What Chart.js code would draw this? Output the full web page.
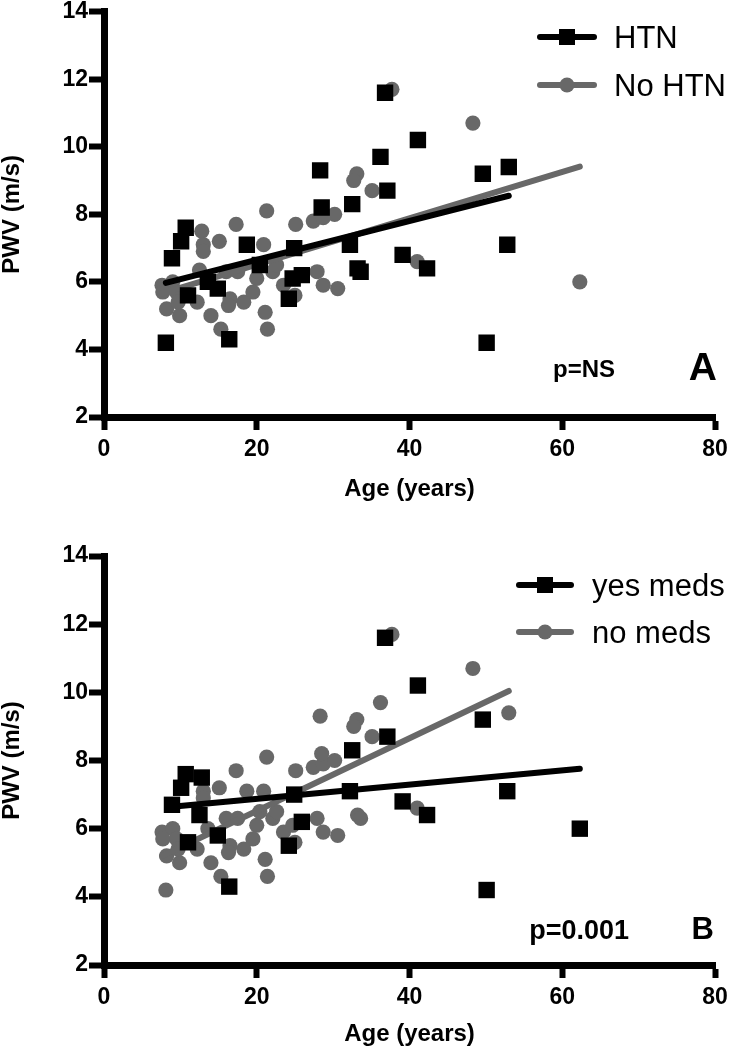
<!DOCTYPE html>
<html lang="en">
<head>
  <meta charset="UTF-8" />
  <title>PWV vs Age</title>
  <script src="https://cdn.jsdelivr.net/npm/chart.js"></script>
  <style>
    body {
      margin: 0;
      background: #ffffff;
    }
    .panel {
      width: 734px;
      height: 524px;
    }
  </style>
</head>
<body>
  <div class="panel"><canvas id="chartA" width="734" height="524"></canvas></div>
  <div class="panel"><canvas id="chartB" width="734" height="524"></canvas></div>

  <script>
    // --- Panel A: HTN vs No HTN
    const htnAge = [8.1, 8.9, 10.1, 10.7, 11.0, 13.6, 14.9, 16.4, 18.7, 20.4, 24.9, 24.2, 24.7, 25.9, 28.3,
                    28.5, 32.5, 32.2, 33.2, 33.6, 36.2, 36.8, 37.1, 39.1, 41.1, 42.3, 49.6, 50.1, 53.0, 52.8];
    const htnPwv = [4.2, 6.7, 7.2, 7.6, 5.6, 6.0, 5.8, 4.3, 7.1, 6.5, 7.0, 5.5, 6.1, 6.2, 9.3,
                    8.2, 8.3, 7.1, 6.4, 6.3, 9.7, 11.6, 8.7, 6.8, 10.2, 6.4, 9.2, 4.2, 9.4, 7.1];

    const noHtnAge = [21.3, 17.3, 12.8, 15.1, 13.0, 13.0, 20.9, 25.1, 12.5, 16.0, 17.5, 20.0, 22.1, 22.6,
                      7.6, 9.0, 7.7, 9.5, 8.2, 9.9, 9.7, 12.2, 14.0, 15.3, 16.5, 16.3, 18.3, 19.5, 21.1,
                      21.4, 23.5, 25.0, 27.4, 37.7, 48.3, 33.1, 32.7, 35.1, 28.7, 30.2, 27.9, 28.7, 30.6,
                      41.0, 62.3];
    const noHtnPwv = [8.1, 7.7, 7.5, 7.2, 7.1, 6.9, 7.1, 7.7, 6.35, 6.3, 6.3, 6.1, 6.3, 6.5,
                      5.9, 6.0, 5.7, 5.7, 5.2, 5.0, 5.4, 5.4, 5.0, 4.6, 5.5, 5.3, 5.4, 5.7, 5.1,
                      4.6, 5.9, 5.6, 7.8, 11.7, 10.7, 9.2, 9.0, 8.7, 7.9, 8.0, 6.3, 5.9, 5.8,
                      6.6, 6.0];

    const htnFitAge = [8.1, 53.0];
    const htnFitPwv = [5.97, 8.55];
    const noHtnFitAge = [7.6, 62.3];
    const noHtnFitPwv = [5.66, 9.41];

    // --- Panel B: yes meds vs no meds
    const medsAge = [8.9, 10.1, 10.7, 11.0, 12.5, 12.8, 14.9, 16.4, 24.9, 24.2, 25.9, 32.5, 32.2,
                     36.8, 37.1, 39.1, 41.1, 42.3, 49.6, 50.1, 52.8, 62.3];
    const medsPwv = [6.7, 7.2, 7.6, 5.6, 6.4, 7.5, 5.8, 4.3, 7.0, 5.5, 6.2, 8.3, 7.1,
                     11.6, 8.7, 6.8, 10.2, 6.4, 9.2, 4.2, 7.1, 6.0];

    const noMedsAge = [21.3, 17.3, 15.1, 13.0, 13.0, 20.9, 25.1, 16.0, 17.5, 20.0, 22.1, 22.6,
                       7.6, 9.0, 7.7, 9.5, 8.2, 9.9, 9.7, 12.2, 14.0, 15.3, 16.5, 16.3, 18.3, 19.5, 21.1,
                       21.4, 23.5, 25.0, 27.4, 37.7, 48.3, 33.1, 32.7, 35.1, 28.7, 30.2, 27.9, 28.7, 30.6,
                       41.0, 8.1, 13.6, 18.7, 20.4, 24.7, 28.3, 28.5, 33.2, 33.6, 36.2, 53.0];
    const noMedsPwv = [8.1, 7.7, 7.2, 7.1, 6.9, 7.1, 7.7, 6.3, 6.3, 6.1, 6.3, 6.5,
                       5.9, 6.0, 5.7, 5.7, 5.2, 5.0, 5.4, 5.4, 5.0, 4.6, 5.5, 5.3, 5.4, 5.7, 5.1,
                       4.6, 5.9, 5.6, 7.8, 11.7, 10.7, 9.2, 9.0, 8.7, 7.9, 8.0, 6.3, 5.9, 5.8,
                       6.6, 4.2, 6.0, 7.1, 6.5, 6.1, 9.3, 8.2, 6.4, 6.3, 9.7, 9.4];

    const medsFitAge = [8.9, 62.3];
    const medsFitPwv = [6.64, 7.76];
    const noMedsFitAge = [7.6, 53.0];
    const noMedsFitPwv = [5.2, 10.04];

    const xTicks = [0, 20, 40, 60, 80];
    const yTicks = [2, 4, 6, 8, 10, 12, 14];

    const BLACK = '#000000';
    const GREY = '#686868';
    const FONT = '"Liberation Sans", Arial, Helvetica, sans-serif';

    Chart.defaults.font.family = FONT;
    Chart.defaults.color = '#000000';

    const toPoints = (xs, ys) => xs.map((x, i) => ({ x: x, y: ys[i] }));

    // legend + panel labels drawn on the canvas
    const panelText = {
      id: 'panelText',
      afterDraw(chart, args, opts) {
        const ctx = chart.ctx;
        ctx.save();
        opts.legend.forEach(item => {
          ctx.strokeStyle = item.color;
          ctx.lineWidth = 6;
          ctx.lineCap = 'round';
          ctx.beginPath();
          ctx.moveTo(item.x, item.y);
          ctx.lineTo(item.x + item.len, item.y);
          ctx.stroke();
          ctx.fillStyle = item.color;
          const mid = item.x + item.len / 2;
          if (item.shape === 'rect') {
            ctx.fillRect(mid - 8, item.y - 8, 16, 16);
          } else {
            ctx.beginPath();
            ctx.arc(mid, item.y, 7.5, 0, Math.PI * 2);
            ctx.fill();
          }
          ctx.fillStyle = '#000000';
          ctx.font = '31px ' + FONT;
          ctx.textAlign = 'left';
          ctx.textBaseline = 'alphabetic';
          ctx.fillText(item.label, item.textX, item.y + 11);
        });
        opts.notes.forEach(n => {
          ctx.fillStyle = '#000000';
          ctx.font = 'bold ' + n.size + 'px ' + FONT;
          ctx.textAlign = 'right';
          ctx.textBaseline = 'alphabetic';
          ctx.fillText(n.text, n.x, n.y);
        });
        ctx.restore();
      }
    };

    function makeChart(id, sets, layout, legend, notes) {
      const ctx = document.getElementById(id).getContext('2d');
      return new Chart(ctx, {
        type: 'scatter',
        data: {
          datasets: [
            {
              label: sets.squareLabel,
              data: toPoints(sets.sqX, sets.sqY),
              pointStyle: 'rect',
              pointRadius: 11.6,
              pointBackgroundColor: BLACK,
              pointBorderWidth: 0,
              order: 0
            },
            {
              label: sets.squareLabel + ' fit',
              data: toPoints(sets.sqFitX, sets.sqFitY),
              showLine: true,
              borderColor: BLACK,
              borderWidth: 6,
              borderCapStyle: 'round',
              pointRadius: 0,
              order: 1
            },
            {
              label: sets.circleLabel + ' fit',
              data: toPoints(sets.ciFitX, sets.ciFitY),
              showLine: true,
              borderColor: GREY,
              borderWidth: 6,
              borderCapStyle: 'round',
              pointRadius: 0,
              order: 2
            },
            {
              label: sets.circleLabel,
              data: toPoints(sets.ciX, sets.ciY),
              pointStyle: 'circle',
              pointRadius: 7.6,
              pointBackgroundColor: GREY,
              pointBorderWidth: 0,
              order: 3
            }
          ]
        },
        options: {
          responsive: false,
          animation: false,
          layout: { padding: { left: 0, right: 19, top: layout.top, bottom: layout.bottom } },
          plugins: {
            legend: { display: false },
            tooltip: { enabled: false },
            panelText: { legend: legend, notes: notes }
          },
          scales: {
            x: {
              type: 'linear',
              min: 0,
              max: 80,
              afterBuildTicks: s => { s.ticks = xTicks.map(v => ({ value: v })); },
              afterFit: s => { s.height = layout.xHeight; s.paddingLeft = 0; s.paddingRight = 0; },
              grid: { drawOnChartArea: false, tickLength: 13, tickWidth: 6, tickColor: BLACK },
              border: { display: true, width: 7, color: BLACK },
              ticks: { padding: 6, font: { size: 23, weight: 'bold' }, color: BLACK, maxRotation: 0 },
              title: {
                display: true,
                text: 'Age (years)',
                font: { size: 24, weight: 'bold', lineHeight: 1 },
                padding: 0,
                color: BLACK
              }
            },
            y: {
              type: 'linear',
              min: 2,
              max: 14,
              afterBuildTicks: s => { s.ticks = yTicks.map(v => ({ value: v })); },
              afterFit: s => { s.width = 104; s.paddingTop = 0; s.paddingBottom = 0; },
              grid: { drawOnChartArea: false, tickLength: 15, tickWidth: 6, tickColor: BLACK },
              border: { display: true, width: 7, color: BLACK },
              ticks: { padding: 1, font: { size: 23, weight: 'bold' }, color: BLACK },
              title: {
                display: true,
                text: 'PWV (m/s)',
                font: { size: 24, weight: 'bold', lineHeight: 1 },
                padding: 0,
                color: BLACK
              }
            }
          }
        },
        plugins: [panelText]
      });
    }

    makeChart('chartA',
      {
        squareLabel: 'HTN', sqX: htnAge, sqY: htnPwv, sqFitX: htnFitAge, sqFitY: htnFitPwv,
        circleLabel: 'No HTN', ciX: noHtnAge, ciY: noHtnPwv, ciFitX: noHtnFitAge, ciFitY: noHtnFitPwv
      },
      { top: 9, bottom: 23, xHeight: 84 },
      [
        { label: 'HTN', color: BLACK, shape: 'rect', x: 540, y: 37, len: 54, textX: 614 },
        { label: 'No HTN', color: GREY, shape: 'circle', x: 540, y: 85, len: 54, textX: 614 }
      ],
      [
        { text: 'p=NS', size: 24, x: 615, y: 377 },
        { text: 'A', size: 39, x: 717, y: 380 }
      ]
    );

    makeChart('chartB',
      {
        squareLabel: 'yes meds', sqX: medsAge, sqY: medsPwv, sqFitX: medsFitAge, sqFitY: medsFitPwv,
        circleLabel: 'no meds', ciX: noMedsAge, ciY: noMedsPwv, ciFitX: noMedsFitAge, ciFitY: noMedsFitPwv
      },
      { top: 32, bottom: 2, xHeight: 81 },
      [
        { label: 'yes meds', color: BLACK, shape: 'rect', x: 519, y: 61, len: 52, textX: 592 },
        { label: 'no meds', color: GREY, shape: 'circle', x: 519, y: 108, len: 52, textX: 592 }
      ],
      [
        { text: 'p=0.001', size: 27, x: 629, y: 415 },
        { text: 'B', size: 31, x: 714, y: 415 }
      ]
    );
  </script>
</body>
</html>
